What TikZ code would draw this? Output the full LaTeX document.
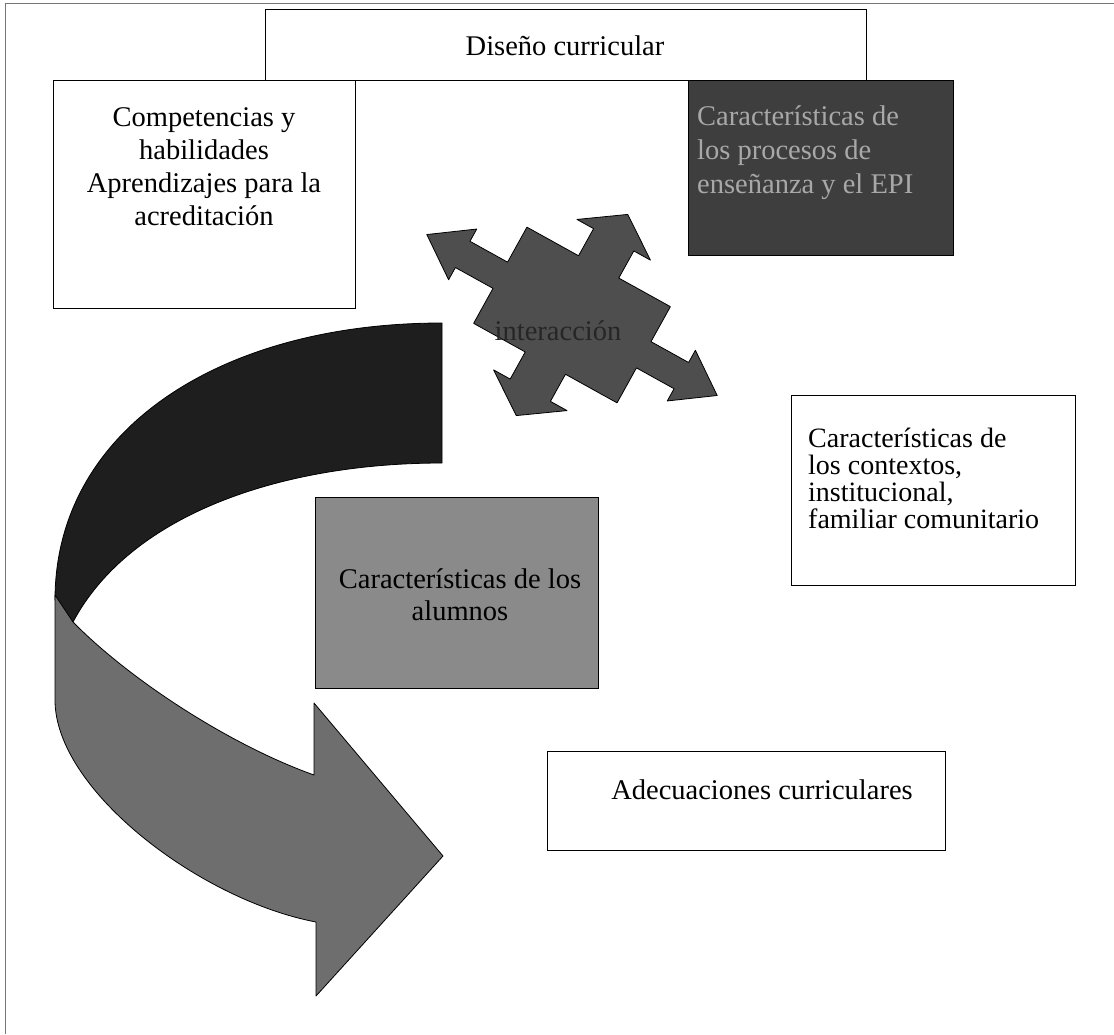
\documentclass[tikz,border=0pt]{standalone}
\usepackage{fontspec}
\setmainfont{Liberation Serif}
\definecolor{bandDark}{HTML}{1E1E1E}
\definecolor{bandLight}{HTML}{6E6E6E}
\definecolor{procFill}{HTML}{3E3E3E}
\definecolor{alumFill}{HTML}{8A8A8A}
\definecolor{quadFill}{HTML}{4E4E4E}
\definecolor{procText}{HTML}{A8A8A8}
\definecolor{frameGray}{HTML}{777777}
\begin{document}
\begin{tikzpicture}[x=1pt,y=-1pt,
  box/.style={draw=black, line width=1.2pt, inner sep=0pt, anchor=north west},
  txt/.style={inner sep=0pt, font=\fontsize{28.5}{32}\selectfont},
  shapeline/.style={draw=black, line width=0.8pt, line join=round}]
\useasboundingbox (0,0) rectangle (1114,1034);
% page frame
\draw[frameGray, line width=1pt] (5,1034) -- (5,3) -- (1114,3);
% boxes
\node[box, minimum width=601pt, minimum height=71pt] (dis) at (265,9) {};
\node[box, minimum width=302pt, minimum height=228pt] (comp) at (53,80) {};
\node[box, fill=procFill, minimum width=265pt, minimum height=175pt] (proc) at (688,80) {};
\node[box, fill=alumFill, minimum width=283pt, minimum height=191pt] (alum) at (315,497) {};
\node[box, minimum width=284pt, minimum height=190pt] (cont) at (791,395) {};
\node[box, minimum width=398pt, minimum height=99pt] (adec) at (547,751) {};
% curved arrow: back (dark) part
\path[shapeline, fill=bandDark]
  (442,323) .. controls (220,323) and (55,430) .. (55,600)
  -- (73,622) .. controls (130,515) and (280,463) .. (442,463) -- cycle;
% curved arrow: front (light) part with head
\path[shapeline, fill=bandLight]
  (55,595) -- (55,700) .. controls (55,790) and (200,900) .. (316,922)
  -- (316,996) -- (443,856) -- (314,703) -- (314,775)
  .. controls (230,745) and (130,680) .. (73,622) -- cycle;
% four-way arrow
\begin{scope}[shift={(572,315)}, rotate=-29]
\path[shapeline, fill=quadFill]
  (-82,-55) -- (-23,-55) -- (-23,-86) -- (-42,-86) -- (0,-115) -- (42,-86) -- (23,-86) -- (23,-55)
  -- (82,-55) -- (82,-15) -- (125,-15) -- (125,-29) -- (166,0) -- (125,29) -- (125,15) -- (82,15)
  -- (82,55) -- (23,55) -- (23,86) -- (42,86) -- (0,115) -- (-42,86) -- (-23,86) -- (-23,55)
  -- (-82,55) -- (-82,15) -- (-125,15) -- (-125,29) -- (-166,0) -- (-125,-29) -- (-125,-15) -- (-82,-15)
  -- cycle;
\end{scope}
% texts (multi-line nodes: base anchor = baseline of last line)
\node[txt, anchor=base] (tdis) at (565,55) {Diseño curricular};
\node[txt, anchor=base, align=center, font=\fontsize{28.5}{32.7}\selectfont] (tcomp) at (204,225)
  {Competencias y\\habilidades\\Aprendizajes para la\\acreditación};
\node[txt, anchor=base west, align=left, text=procText, font=\fontsize{28.5}{34}\selectfont] (tproc) at (697,193)
  {Características de\\los procesos de\\enseñanza y el EPI};
\node[txt, anchor=base, text=black!85] (tint) at (558,340) {interacción};
\node[txt, anchor=base, align=center] (talum) at (460,620)
  {Características de los\\alumnos};
\node[txt, anchor=base west, align=left, font=\fontsize{28}{27}\selectfont] (tcont) at (808,528)
  {Características de\\los contextos,\\institucional,\\familiar comunitario};
\node[txt, anchor=base] (tadec) at (762,799) {Adecuaciones curriculares};
\end{tikzpicture}
\end{document}
